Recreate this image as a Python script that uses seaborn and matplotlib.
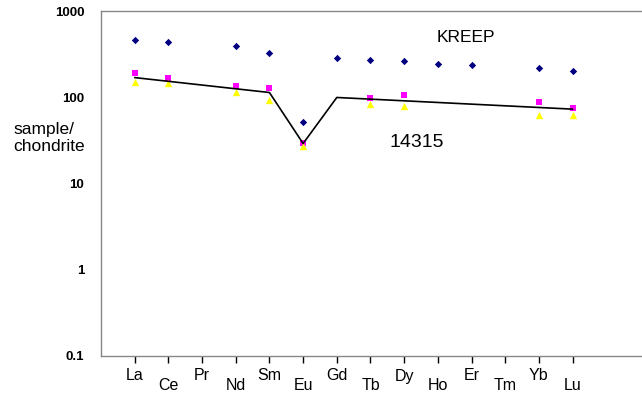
import numpy as np
import pandas as pd
import matplotlib
matplotlib.use('Agg')
import matplotlib.pyplot as plt
import matplotlib.transforms as mtransforms
import seaborn as sns

# REE chondrite-normalised values
elements = ['La', 'Ce', 'Pr', 'Nd', 'Sm', 'Eu', 'Gd', 'Tb', 'Dy', 'Ho', 'Er', 'Tm', 'Yb', 'Lu']
kreep = [459, 435, np.nan, 388, 324, 52, 286, 269, 260, 246, 238, np.nan, 216, 201]
s14315_a = [192, 166, np.nan, 136, 127, 29.6, np.nan, 97, 105, np.nan, np.nan, np.nan, 88.5, 75.4]
s14315_b = [150, 147, np.nan, 114, 94, 27.3, np.nan, 83, 79, np.nan, np.nan, np.nan, 63, 63]
trend_elements = ['La', 'Sm', 'Eu', 'Gd', 'Lu']
trend_values = [169, 113.5, 29.1, 99.4, 72.8]
ytick_vals = [0.1, 1, 10, 100, 1000]
ytick_labels = ['0.1', '1', '10', '100', '1000']

sns.set_style('white')
plt.rcParams['font.family'] = ['Liberation Sans', 'DejaVu Sans']
plt.rcParams['text.color'] = 'black'
plt.rcParams['xtick.color'] = 'black'
plt.rcParams['ytick.color'] = 'black'

pos = {e: i for i, e in enumerate(elements)}
df = pd.DataFrame({'x': range(len(elements)), 'kreep': kreep, 'a': s14315_a, 'b': s14315_b})
trend = pd.DataFrame({'x': [pos[e] for e in trend_elements], 'y': trend_values})

W, H = 642, 394
fig = plt.figure(figsize=(W / 100, H / 100), dpi=100)
ax = fig.add_axes([101 / W, 1 - 356 / H, 1 - 101 / W, 345 / H])

sns.lineplot(data=trend, x='x', y='y', color='black', linewidth=1.2, sort=False, ax=ax)
sns.scatterplot(data=df, x='x', y='kreep', marker='D', color='#000080', s=14, linewidth=0, ax=ax)
sns.scatterplot(data=df, x='x', y='a', marker='s', color='#FF00FF', s=24, linewidth=0, ax=ax)
sns.scatterplot(data=df, x='x', y='b', marker='^', color='#FFFF00', s=28, linewidth=0, ax=ax)

ax.set_yscale('log')
ax.set_ylim(0.1, 1000)
ax.set_xlim(-1, 15.06)
ax.set_yticks(ytick_vals)
ax.set_yticklabels(ytick_labels, fontsize=9.5, fontweight='bold')
ax.yaxis.set_minor_locator(matplotlib.ticker.NullLocator())
ax.tick_params(axis='y', length=0, pad=12)
ax.set_xticks(range(len(elements)))
ax.set_xticklabels(elements, fontsize=11.5)
ax.tick_params(axis='x', length=5, width=1, color='black', direction='out', pad=4, bottom=True)

for i, lbl in enumerate(ax.get_xticklabels()):
    if i % 2 == 1:
        off = mtransforms.ScaledTranslation(0, -9 / 100, fig.dpi_scale_trans)
        lbl.set_transform(lbl.get_transform() + off)

for side in ['left', 'bottom', 'top']:
    ax.spines[side].set_color('#888888')
    ax.spines[side].set_linewidth(1)
ax.spines['right'].set_visible(False)

ax.set_xlabel('')
ax.set_ylabel('')
fig.text(13 / W, 1 - 138 / H, 'sample/\nchondrite', fontsize=12.5, ha='left', va='center', linespacing=1.15)
fig.text(466 / W, 1 - 37 / H, 'KREEP', fontsize=12.5, ha='center', va='center')
fig.text(417 / W, 1 - 143 / H, '14315', fontsize=14, ha='center', va='center')

fig.savefig('out.png', dpi=100)
